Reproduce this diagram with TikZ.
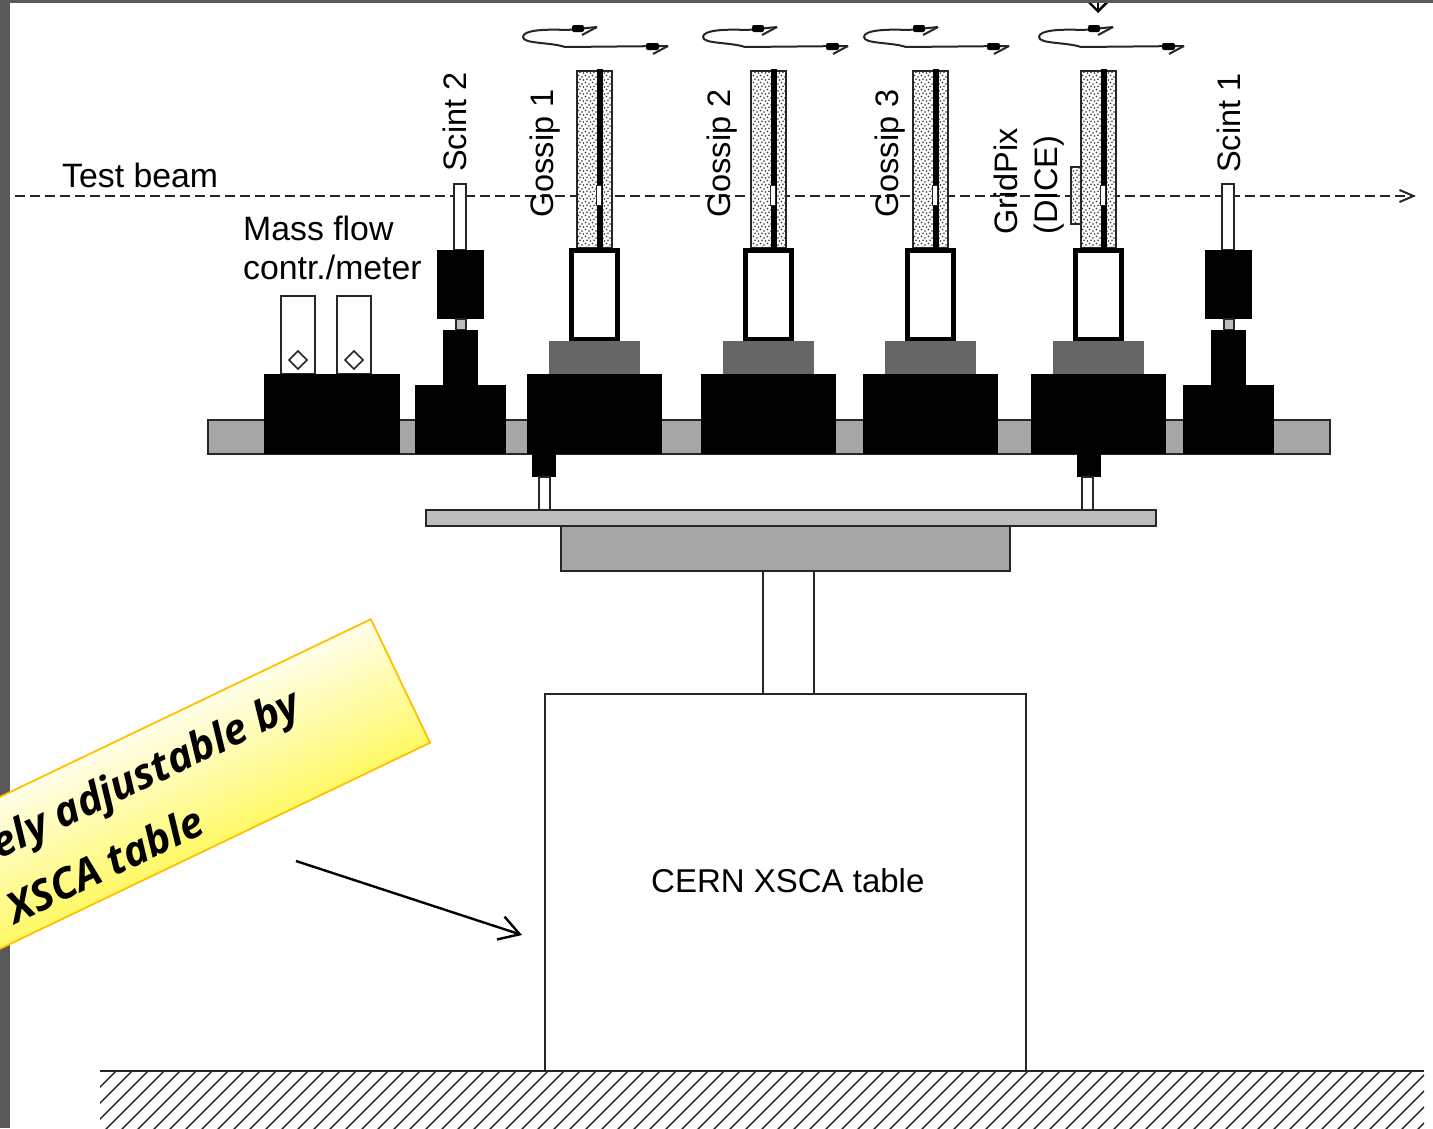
\documentclass[tikz,border=0pt]{standalone}
\usepackage{xcolor}
\usepackage{fontspec}
\setmainfont{Liberation Sans}
\newfontfamily\calloutfont{Open Sans}
\usetikzlibrary{arrows.meta, patterns, shadings}
\definecolor{framegray}{HTML}{595959}
\definecolor{railgray}{HTML}{A6A6A6}
\definecolor{plategray}{HTML}{BDBDBD}
\definecolor{mountgray}{HTML}{666666}
\definecolor{calloutline}{HTML}{FFC000}
\definecolor{calloutlow}{HTML}{FFF966}
% stipple for the detector plates
\pgfdeclarepatternformonly{stipple}{\pgfqpoint{-1pt}{-1pt}}{\pgfqpoint{8pt}{8pt}}{\pgfqpoint{7pt}{7pt}}{
  \pgfpathcircle{\pgfqpoint{1pt}{1pt}}{0.9pt}
  \pgfpathcircle{\pgfqpoint{4.5pt}{2.5pt}}{0.9pt}
  \pgfpathcircle{\pgfqpoint{2.5pt}{5pt}}{0.9pt}
  \pgfpathcircle{\pgfqpoint{6pt}{5.8pt}}{0.9pt}
  \pgfusepath{fill}
}

\begin{document}
\begin{tikzpicture}[
  x=1pt, y=-1pt,
  every node/.style={font=\fontsize{33}{39}\selectfont, inner sep=0pt},
  line/.style={draw=black!85, line width=2pt},
  solid block/.style={fill=black},
  holder/.style={draw=black, line width=5pt, fill=white},
  dotted plate/.style={line, pattern=stipple, pattern color=black!80},
  vlabel/.style={rotate=90, anchor=base west, font=\fontsize{32.5}{39}\selectfont},
  hlabel/.style={anchor=base west},
  barb/.style={-{Straight Barb[length=20pt, width=24pt, line width=2.4pt]}, line width=2.4pt},
  dropbarb/.style={-{Straight Barb[length=16pt, width=32pt, line width=2.4pt]}, line width=2.4pt},
  swing/.style={black!85, line width=2pt},
  calloutlabel/.style={rotate=25.6, anchor=base east, font=\calloutfont\bfseries\itshape\fontsize{42}{50}\selectfont},
]
  \useasboundingbox (0,0) rectangle (1433,1128);
  \clip (0,0) rectangle (1433,1128);

  % frame
  \fill[framegray] (0,0) rectangle (1433,3);
  \fill[framegray] (0,0) rectangle (10,1128);
  \coordinate (droptop) at (1098,-10);
  \coordinate (droptip) at (1098,13);
  \draw[dropbarb] (droptop) -- (droptip);
  \fill[framegray] (20,0) rectangle (1433,3);

  % beam
  \coordinate (beamstart) at (15,196);
  \coordinate (beamend) at (1416,196);
  \draw[black!85, line width=2pt, dash pattern=on 10pt off 5pt, -{Straight Barb[length=14pt, width=12pt]}] (beamstart) -- (beamend);

  % rail and table
  \filldraw[line, fill=railgray] (208,420) rectangle (1330,454);
  \filldraw[line, fill=plategray] (426,510) rectangle (1156,526);
  \filldraw[line, fill=railgray] (561,526) rectangle (1010,571);
  \filldraw[line, fill=white] (763,571) rectangle (814,694);
  \filldraw[line, fill=white] (545,694) rectangle (1026,1071);

  % mass flow
  \filldraw[line, fill=white] (281,296) rectangle (315,374);
  \filldraw[line, fill=white] (337,296) rectangle (371,374);
  \foreach \xd in {298,354}
    \draw[black!85, line width=1.6pt] (\xd-9,360) -- (\xd,351) -- (\xd+9,360) -- (\xd,369) -- cycle;
  \fill[solid block] (264,374) rectangle (400,454);

  % scintillators
  \foreach \dx in {0,768} {
    \filldraw[line, fill=white] ({454+\dx},184) rectangle ({466+\dx},250);
    \fill[solid block] ({437+\dx},250) rectangle ({484+\dx},319);
    \filldraw[line, fill=plategray] ({456+\dx},319) rectangle ({466+\dx},330);
    \fill[solid block] ({443+\dx},330) rectangle ({478+\dx},386);
    \fill[solid block] ({415+\dx},385) rectangle ({506+\dx},454);
  }

  % detector stations
  \foreach \dx in {0,174,336,504} {
    \fill[white] ({577+\dx},71) rectangle ({612+\dx},248);
    \filldraw[dotted plate] ({577+\dx},71) rectangle ({612+\dx},248);
    \fill[solid block] ({597+\dx},69) rectangle ({603+\dx},248);
    \filldraw[black!85, line width=1pt, fill=white] ({596+\dx},185) rectangle ({601+\dx},205);
    \filldraw[holder] ({571.5+\dx},250.5) rectangle ({617.5+\dx},339);
    \fill[mountgray] ({549+\dx},341) rectangle ({640+\dx},374);
    \fill[solid block] ({527+\dx},374) rectangle ({662+\dx},454);
  }

  % rotation marks
  \foreach \dx in {0,180,341,516} {
    \draw[swing] ({597+\dx},27) -- ({567+\dx},30) .. controls ({545+\dx},29) and ({523+\dx},30) .. ({523+\dx},37)
      .. controls ({523+\dx},44) and ({550+\dx},42) .. ({565+\dx},47) -- ({668+\dx},46);
    \fill[rounded corners=2pt] ({572+\dx},25) rectangle ({584+\dx},32);
    \fill[rounded corners=2pt] ({646+\dx},43) rectangle ({659+\dx},50);
    \draw[swing] ({582+\dx},35) -- ({597+\dx},27);
    \draw[swing] ({653+\dx},54) -- ({668+\dx},46);
  }

  % feet under the rail
  \foreach \dx in {0,545} {
    \fill[solid block] ({532+\dx},454) rectangle ({556+\dx},477);
    \filldraw[line, fill=white] ({539+\dx-\dx/300},477) rectangle ({550+\dx-\dx/300},510);
  }
  \fill[white] (1071,167) rectangle (1081,224);
  \filldraw[dotted plate] (1071,167) rectangle (1081,224);

  % ground
  \begin{scope}
    \clip (100,1071) rectangle (1424,1128);
    \foreach \hx in {116,132,...,1560}
      \draw[black!85, line width=1.4pt] (\hx,1071) -- ++(-60,60);
  \end{scope}
  \draw[line] (100,1071) -- (1424,1071);

  % labels
  \node[hlabel, font=\fontsize{33.8}{39}\selectfont] (testbeam) at (62,187) {Test beam};
  \node[hlabel, font=\fontsize{33.8}{39}\selectfont] (massflow) at (243,240) {Mass flow};
  \node[hlabel, font=\fontsize{33.8}{39}\selectfont] (meter) at (243,279) {contr./meter};
  \node[vlabel] (scint2) at (466,172) {Scint 2};
  \node[vlabel] (gossip1) at (553,218) {Gossip 1};
  \node[vlabel] (gossip2) at (730,218) {Gossip 2};
  \node[vlabel] (gossip3) at (898,218) {Gossip 3};
  \node[vlabel] (gridpix) at (1017,235) {GridPix};
  \node[vlabel] (dice) at (1057,235) {(DICE)};
  \node[vlabel] (scint1) at (1240,173) {Scint 1};
  \node[hlabel] (xsca) at (651,892) {CERN XSCA table};

  % callout
  \begin{scope}[transform canvas={rotate around={25.6:(175,789)}}]
    \node[minimum width=500pt, minimum height=137pt, draw=calloutline, line width=1.8pt,
          top color=white!85!calloutlow, bottom color=calloutlow] (callout) at (175,789) {};
  \end{scope}
  \node[calloutlabel] (calloutone) at (303,714) {ely adjustable by};
  \node[calloutlabel] (callouttwo) at (208,832) {XSCA table};
  \coordinate (arrowstart) at (296,861);
  \coordinate (arrowend) at (522,935);
  \draw[barb] (arrowstart) -- (arrowend);
\end{tikzpicture}
\end{document}
